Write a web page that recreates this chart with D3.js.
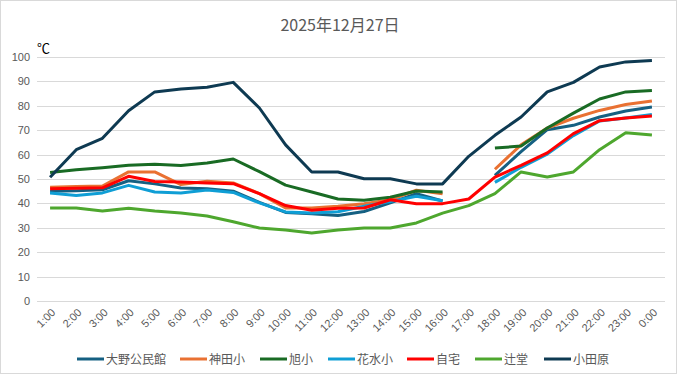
<!DOCTYPE html>
<meta charset="utf-8">
<style>
  body { margin: 0; background: #fff; }
  text { font-family: "Noto Sans CJK JP", "Liberation Sans", sans-serif; }
</style>
<body>
<script src="https://cdn.jsdelivr.net/npm/d3@7"></script>
<script>

// hours on the x axis
var hours = ["1:00","2:00","3:00","4:00","5:00","6:00","7:00","8:00","9:00","10:00","11:00","12:00",
  "13:00","14:00","15:00","16:00","17:00","18:00","19:00","20:00","21:00","22:00","23:00","0:00"];

var yTicks = [0,10,20,30,40,50,60,70,80,90,100];

// series (null = no reading)
var oono    = [45,45.2,45.6,49.3,48,46.3,46,45,40.4,36.3,35.8,35,36.7,40.2,44,41,null,51.5,61.2,70.2,72,75.4,77.9,79.5];
var kanda   = [46.6,46.9,47.1,52.9,52.9,47.7,49.1,48.4,44,38.1,38.1,38.8,39.9,41.5,45.4,43.9,null,54,64,70.9,74.9,78.1,80.5,82];
var asahi   = [52.7,53.8,54.6,55.6,56,55.5,56.6,58.2,53,47.5,44.7,41.8,41.3,42.5,45.1,44.7,null,62.7,63.5,70.9,77,82.8,85.7,86.3];
var hanamizu= [44.3,43.2,44.3,47.4,44.7,44.3,45.5,44.5,40.2,36.5,36.1,36.6,38.8,40.8,42.9,41.1,null,48.6,54.8,60.2,67.8,73.8,75,76.4];
var jitaku  = [46,46.2,46.4,51.1,49,48.8,48.4,48.1,44,39.1,37.2,38,38.1,41.5,39.9,39.9,41.8,50.8,55.6,60.7,68.6,73.9,75,75.8];
var tsujido = [38.1,38.1,36.9,38,36.9,36.1,34.8,32.5,29.9,29.1,27.9,29.1,29.9,29.9,32,36,39.1,44,52.9,50.8,52.9,62,69,68];
var odawara = [50.7,62,66.7,78,85.7,86.9,87.6,89.6,79.1,64,52.9,52.9,50.1,50.1,48,48,59.3,67.9,75.4,85.7,89.6,95.9,98,98.6];

var names  = ["大野公民館","神田小","旭小","花水小","自宅","辻堂","小田原"];
var colors = ["#156082","#E97132","#196B24","#0F9ED5","#FF0000","#4EA72E","#0E3A52"];

var series = [oono, kanda, asahi, hanamizu, jitaku, tsujido, odawara].map(function(v, i) {
  return { name: names[i], color: colors[i], values: v };
});

var W = 681, H = 378;
var margin = {top: 57, right: 16, bottom: 77, left: 37};
var width = W - margin.left - margin.right,
    height = H - margin.top - margin.bottom;

var svg = d3.select("body").append("svg")
  .attr("width", W)
  .attr("height", H);

// outer chart border
svg.append("rect")
  .attr("x", 0.5).attr("y", 0.5)
  .attr("width", 676).attr("height", 373)
  .attr("fill", "#fff")
  .attr("stroke", "#d9d9d9");

svg.append("text")
  .attr("x", 340).attr("y", 31)
  .attr("text-anchor", "middle")
  .style("font-size", "16px")
  .style("fill", "#595959")
  .text("2025年12月27日");

var g = svg.append("g")
  .attr("transform", "translate(" + margin.left + "," + margin.top + ")");

var x = d3.scaleBand().domain(hours).range([0, width]);
var y = d3.scaleLinear().domain([0, 100]).range([height, 0]);

// gridlines
g.selectAll(".grid")
  .data(yTicks)
  .enter().append("line")
  .attr("x1", 0).attr("x2", width)
  .attr("y1", function(d) { return Math.round(y(d)) + 0.5; })
  .attr("y2", function(d) { return Math.round(y(d)) + 0.5; })
  .attr("stroke", "#d9d9d9")
  .attr("stroke-width", 1);

// y axis labels
var yAxis = g.append("g")
  .call(d3.axisLeft(y).tickValues(yTicks).tickSize(0).tickPadding(7));
yAxis.select(".domain").remove();
yAxis.selectAll("text")
  .style("font-size", "11px")
  .style("font-family", "Liberation Sans, sans-serif")
  .style("fill", "#595959");

// x axis labels, rotated
var xAxis = g.append("g")
  .attr("transform", "translate(0," + height + ")")
  .call(d3.axisBottom(x).tickSize(0));
xAxis.select(".domain").remove();
xAxis.selectAll("text")
  .style("font-size", "11px")
  .style("font-family", "Liberation Sans, sans-serif")
  .style("fill", "#595959")
  .style("text-anchor", "end")
  .attr("dx", "0")
  .attr("dy", "0")
  .attr("transform", "translate(4,10) rotate(-45)");

// unit label
svg.append("text")
  .attr("x", 37).attr("y", 53)
  .style("font-size", "13px")
  .style("fill", "#000")
  .text("℃");

var line = d3.line()
  .defined(function(d) { return d != null; })
  .x(function(d, i) { return x(hours[i]) + x.bandwidth() / 2; })
  .y(function(d) { return y(d); });

g.selectAll(".series")
  .data(series)
  .enter().append("path")
  .attr("fill", "none")
  .attr("stroke", function(d) { return d.color; })
  .attr("stroke-width", 3)
  .attr("stroke-linejoin", "round")
  .attr("d", function(d) { return line(d.values); });

// legend
var legendX = [77, 180, 260, 328, 407, 475, 544];
var legend = svg.selectAll(".legend")
  .data(series)
  .enter().append("g")
  .attr("transform", function(d, i) { return "translate(" + legendX[i] + ",359)"; });

legend.append("line")
  .attr("x1", 0).attr("x2", 27)
  .attr("stroke", function(d) { return d.color; })
  .attr("stroke-width", 3);

legend.append("text")
  .attr("x", 29).attr("y", 4.5)
  .style("font-size", "12px")
  .style("fill", "#595959")
  .text(function(d) { return d.name; });

</script>
</body>
